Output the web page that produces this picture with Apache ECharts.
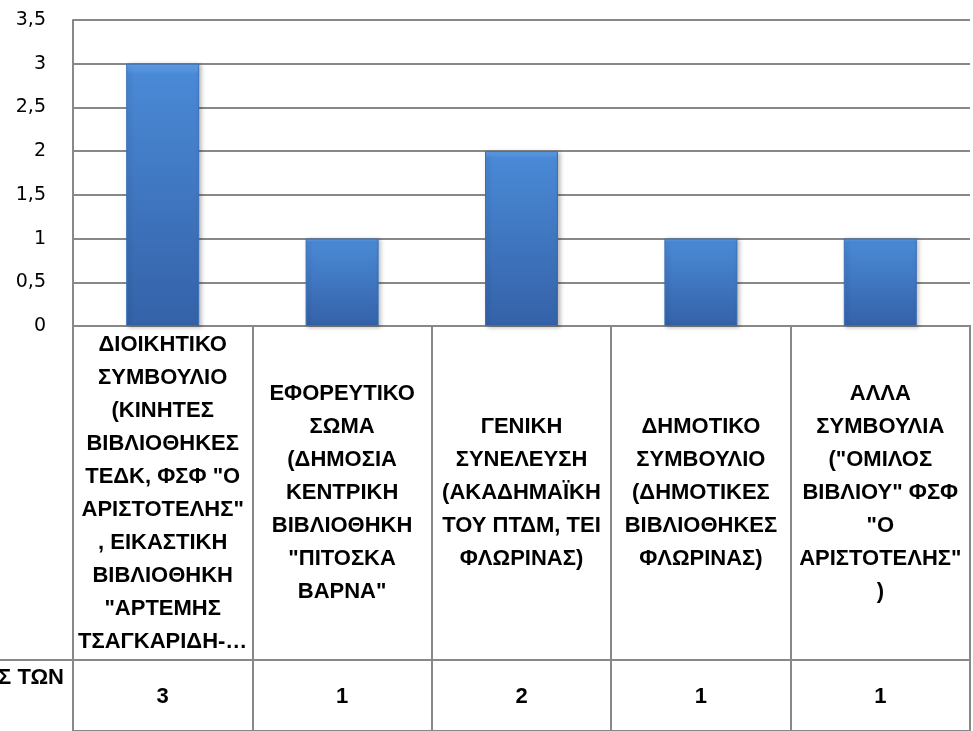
<!DOCTYPE html>
<html>
<head>
<meta charset="utf-8">
<script src="https://cdn.jsdelivr.net/npm/echarts@6/dist/echarts.min.js"></script>
<style>
html,body{margin:0;padding:0;background:#fff;}
#chart{width:973px;height:731px;}
</style>
</head>
<body>
<div id="chart"></div>
<script>
// ---- data ----
const categories = [
  'ΔΙΟΙΚΗΤΙΚΟ\nΣΥΜΒΟΥΛΙΟ\n(ΚΙΝΗΤΕΣ\nΒΙΒΛΙΟΘΗΚΕΣ\nΤΕΔΚ, ΦΣΦ "Ο\nΑΡΙΣΤΟΤΕΛΗΣ"\n, ΕΙΚΑΣΤΙΚΗ\nΒΙΒΛΙΟΘΗΚΗ\n"ΑΡΤΕΜΗΣ\nΤΣΑΓΚΑΡΙΔΗ-…',
  'ΕΦΟΡΕΥΤΙΚΟ\nΣΩΜΑ\n(ΔΗΜΟΣΙΑ\nΚΕΝΤΡΙΚΗ\nΒΙΒΛΙΟΘΗΚΗ\n"ΠΙΤΟΣΚΑ\nΒΑΡΝΑ"',
  'ΓΕΝΙΚΗ\nΣΥΝΕΛΕΥΣΗ\n(ΑΚΑΔΗΜΑΪΚΗ\nΤΟΥ ΠΤΔΜ, ΤΕΙ\nΦΛΩΡΙΝΑΣ)',
  'ΔΗΜΟΤΙΚΟ\nΣΥΜΒΟΥΛΙΟ\n(ΔΗΜΟΤΙΚΕΣ\nΒΙΒΛΙΟΘΗΚΕΣ\nΦΛΩΡΙΝΑΣ)',
  'ΑΛΛΑ\nΣΥΜΒΟΥΛΙΑ\n("ΟΜΙΛΟΣ\nΒΙΒΛΙΟΥ" ΦΣΦ\n"Ο\nΑΡΙΣΤΟΤΕΛΗΣ"\n)'
];
const values = [3, 1, 2, 1, 1];
const seriesName = 'ΑΡΙΘΜΟΣ ΤΩΝ';
const yTicks = { min: 0, max: 3.5, interval: 0.5 };

// ---- chart ----
const FONT = '"Liberation Sans", Arial, sans-serif';
const YFONT = '"DejaVu Sans", sans-serif';
const GRID_COLOR = '#888888';
const chart = echarts.init(document.getElementById('chart'), null, { renderer: 'canvas' });

const option = {
  animation: false,
  backgroundColor: '#ffffff',
  grid: [
    { left: 73, right: 3, top: 20, bottom: 405, containLabel: false },
    { left: 73, right: 3, top: 326, height: 430, show: true, borderColor: GRID_COLOR, borderWidth: 2 }
  ],
  xAxis: [
    {
      type: 'category', gridIndex: 0, data: categories,
      axisLine: { show: true, lineStyle: { color: GRID_COLOR, width: 2 } },
      axisTick: { show: false },
      axisLabel: {
        interval: 0, margin: 167, verticalAlign: 'middle', align: 'center',
        fontFamily: FONT, fontWeight: 'bold', fontSize: 22, lineHeight: 33, color: '#000'
      }
    },
    {
      type: 'category', gridIndex: 0, data: categories, position: 'bottom', offset: 0,
      axisLine: { show: false }, axisTick: { show: false },
      axisLabel: {
        interval: 0, margin: 371, verticalAlign: 'middle', align: 'center',
        fontFamily: FONT, fontWeight: 'bold', fontSize: 22, color: '#000',
        formatter: (v, i) => String(values[i])
      }
    },
    {
      type: 'category', gridIndex: 1, data: categories,
      axisLine: { show: false }, axisTick: { show: false }, axisLabel: { show: false },
      splitLine: { show: true, interval: 0, lineStyle: { color: GRID_COLOR, width: 2 } }
    }
  ],
  yAxis: [
    {
      type: 'value', gridIndex: 0, min: yTicks.min, max: yTicks.max, interval: yTicks.interval,
      axisLine: { show: true, lineStyle: { color: GRID_COLOR, width: 2 } },
      axisTick: { show: false },
      axisLabel: {
        margin: 27, fontFamily: YFONT, fontSize: 19, color: '#000',
        formatter: v => String(v).replace('.', ',')
      },
      splitLine: { show: true, lineStyle: { color: GRID_COLOR, width: 2 } }
    },
    { type: 'value', gridIndex: 1, show: false }
  ],
  series: [
    {
      name: seriesName, type: 'bar', xAxisIndex: 0, yAxisIndex: 0,
      data: values, barWidth: 73,
      itemStyle: {
        color: new echarts.graphic.LinearGradient(0, 0, 0, 1, [
          { offset: 0, color: '#64a4ec' },
          { offset: 0.04, color: '#4a89d6' },
          { offset: 1, color: '#3462a8' }
        ]),
        borderColor: '#3a6fb8', borderWidth: 1,
        shadowColor: 'rgba(0,0,0,0.25)', shadowBlur: 4, shadowOffsetX: 2, shadowOffsetY: 1
      }
    }
  ],
  graphic: [
    {
      type: 'line', shape: { x1: 0, y1: 660, x2: 970, y2: 660 },
      style: { stroke: GRID_COLOR, lineWidth: 2 }, z: 10
    },
    {
      type: 'text', x: 64, y: 678,
      style: {
        text: seriesName, textAlign: 'right', textVerticalAlign: 'middle',
        font: 'bold 22px ' + FONT, fill: '#000'
      }
    }
  ]
};
chart.setOption(option);
</script>
</body>
</html>
